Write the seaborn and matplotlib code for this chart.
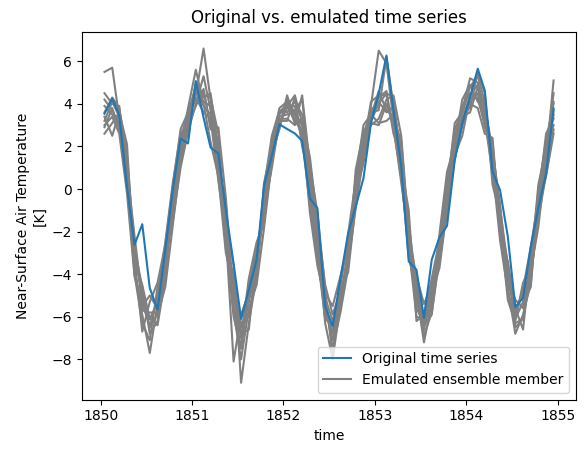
import pandas as pd
import seaborn as sns
import matplotlib
matplotlib.use("Agg")
import matplotlib.pyplot as plt
import matplotlib.dates as mdates

# monthly time axis, mid-month, 1850-1854
time = pd.date_range("1850-01-01", periods=60, freq="MS") + pd.Timedelta(days=15)

# original time series (blue)
original = [3.54, 4.25, 3.46, 0.1, -2.62, -1.65, -4.65, -5.66, -2.86, -0.05, 2.37, 2.14,
            5.07, 3.35, 1.95, 1.67, -0.98, -3.5, -6.1, -4.73, -3.32, 0.19, 1.56, 3.04,
            2.82, 2.61, 2.26, -0.44, -0.9, -5.51, -6.45, -4.2, -2.07, -0.83, 0.5, 3.08,
            4.48, 6.27, 3.7, 1.1, -3.4, -3.79, -6.05, -3.32, -2.26, -1.73, 1.36, 3.08,
            4.32, 5.65, 4.63, 0.81, -0.05, -2.23, -5.54, -5.12, -2.7, -0.9, 0.73, 3.78]

# emulated ensemble members (grey)
member_01 = [5.5, 5.7, 3.3, 0.8, -3.8, -5.9, -7.7, -5.4, -3.2, -0.6, 2.1, 3.4,
             4.4, 6.6, 4.2, 1.5, -2.4, -6.0, -7.4, -5.1, -3.0, -1.2, 1.2, 3.5,
             3.9, 4.4, 3.1, 0.4, -2.1, -5.8, -6.8, -5.2, -2.8, 0.1, 2.4, 3.7,
             4.1, 3.6, 3.9, 1.7, -2.6, -4.4, -6.4, -5.9, -2.9, -0.7, 2.6, 3.2,
             4.4, 4.9, 3.8, 1.9, -0.9, -3.6, -6.1, -5.3, -3.9, -1.4, 0.7, 2.8]
member_02 = [4.5, 4.0, 3.9, 0.5, -3.3, -6.7, -5.3, -4.4, -2.6, 0.1, 2.8, 3.6,
             4.8, 3.9, 3.5, 0.9, -1.3, -3.6, -9.1, -6.3, -4.1, 0.3, 2.0, 3.3,
             3.3, 3.0, 4.4, 1.1, -1.1, -4.7, -7.9, -4.4, -2.3, -0.6, 1.7, 3.9,
             6.5, 5.9, 3.2, 2.3, -2.2, -4.1, -5.4, -4.5, -3.1, 0.4, 1.8, 3.5,
             4.8, 5.3, 4.1, 0.9, -1.5, -4.6, -6.8, -5.9, -4.4, -0.7, 2.1, 4.1]
member_03 = [3.0, 3.4, 2.6, -0.2, -4.1, -5.4, -6.4, -5.9, -4.6, -1.7, 1.3, 3.0,
             3.9, 4.7, 2.8, 2.9, -0.4, -5.2, -6.0, -4.8, -2.6, -1.4, 1.9, 3.8,
             4.1, 3.6, 3.0, -1.1, -3.6, -5.2, -7.5, -5.8, -3.7, 0.9, 2.7, 3.0,
             3.3, 4.2, 4.4, 2.5, -2.0, -4.9, -7.2, -5.3, -2.7, -1.3, 2.4, 3.9,
             4.5, 4.2, 3.1, 1.2, -2.0, -3.4, -5.6, -6.6, -3.1, -0.3, 1.2, 3.5]
member_04 = [3.6, 4.3, 3.8, 1.6, -2.8, -4.6, -6.8, -6.2, -3.8, -0.9, 1.7, 3.2,
             4.9, 4.3, 4.5, 1.9, -1.8, -5.8, -8.0, -5.6, -4.5, -1.8, 1.3, 3.1,
             3.8, 3.9, 2.5, 0.7, -1.8, -5.1, -6.2, -5.0, -3.3, -0.4, 1.9, 3.2,
             4.0, 4.5, 4.3, 1.1, -1.0, -6.2, -5.9, -4.2, -2.4, -0.1, 3.1, 3.6,
             3.8, 5.5, 4.5, 0.2, -1.2, -4.2, -5.2, -5.6, -3.4, -1.1, 1.6, 4.5]
member_05 = [2.6, 3.1, 3.6, 1.0, -3.5, -4.5, -6.1, -6.4, -4.2, -0.4, 2.4, 3.5,
             4.2, 4.6, 3.0, 2.3, -2.8, -4.0, -6.8, -6.6, -2.9, -0.8, 1.5, 2.9,
             4.3, 3.5, 2.4, -0.8, -2.6, -5.9, -6.7, -4.6, -2.1, 0.4, 3.0, 3.5,
             3.1, 3.2, 3.5, 0.8, -3.2, -4.7, -6.6, -4.9, -3.7, -0.9, 1.4, 3.0,
             4.1, 4.5, 2.9, 2.2, -1.8, -3.9, -5.9, -4.7, -2.7, -0.5, 2.6, 3.3]
member_06 = [4.2, 3.7, 3.0, 0.3, -2.5, -5.5, -5.0, -5.6, -3.4, -1.2, 2.0, 3.8,
             5.6, 4.0, 2.2, 0.6, -3.0, -4.5, -6.5, -5.3, -3.6, 0.1, 2.5, 3.7,
             3.6, 4.1, 3.5, 0.2, -2.9, -4.9, -5.5, -4.1, -2.6, -0.2, 1.2, 3.3,
             4.3, 4.6, 2.6, 1.6, -1.6, -4.6, -6.0, -5.6, -2.1, 0.8, 2.1, 4.2,
             4.9, 4.1, 4.2, 1.0, -2.4, -4.8, -6.2, -4.4, -3.6, 0.2, 1.9, 3.0]
member_07 = [3.2, 4.1, 3.4, 0.6, -4.0, -6.3, -7.1, -4.6, -3.0, -1.5, 1.0, 2.7,
             4.0, 5.3, 3.7, 1.2, -0.7, -5.4, -7.5, -4.4, -3.4, -0.3, 2.2, 3.4,
             3.5, 3.7, 4.2, 0.9, -2.4, -6.3, -8.0, -5.4, -3.2, 0.6, 2.2, 3.4,
             4.6, 3.7, 3.4, 2.0, -2.9, -5.3, -6.3, -5.0, -3.4, -1.0, 1.6, 2.5,
             4.3, 4.3, 3.5, 1.5, -1.6, -5.2, -6.3, -6.1, -4.1, -1.3, 1.1, 3.7]
member_08 = [3.9, 3.5, 3.1, 1.3, -3.1, -4.9, -6.5, -5.1, -2.5, 0.3, 2.6, 3.1,
             4.6, 4.1, 3.9, 1.7, -1.6, -5.0, -6.3, -6.0, -3.9, -0.9, 1.7, 2.8,
             4.4, 3.2, 2.7, -0.4, -3.4, -5.5, -7.1, -5.6, -3.0, 0.2, 2.6, 3.6,
             3.7, 6.2, 3.9, 1.4, -3.0, -4.3, -6.9, -5.8, -3.3, -0.5, 2.0, 3.4,
             3.6, 4.8, 3.3, 0.7, -1.4, -3.5, -6.5, -6.1, -3.3, -0.9, 0.6, 2.6]
member_09 = [3.4, 2.5, 3.6, 2.1, -3.9, -5.7, -5.8, -5.8, -3.6, -0.6, 2.3, 3.3,
             4.3, 3.6, 3.3, 0.4, -2.1, -8.1, -5.9, -4.9, -3.2, -1.0, 1.0, 3.2,
             3.2, 4.3, 2.0, 0.5, -3.1, -6.1, -6.4, -5.3, -3.5, -0.9, 1.5, 3.1,
             3.0, 4.0, 3.0, 0.3, -2.3, -5.6, -6.3, -5.5, -2.6, 0.2, 2.8, 3.7,
             5.2, 5.0, 3.7, 1.7, -0.7, -4.4, -5.6, -5.0, -3.8, -1.8, 1.4, 5.1]
member_10 = [2.9, 3.8, 2.8, 0.9, -2.2, -5.2, -6.1, -5.3, -2.8, -1.0, 1.5, 2.9,
             5.0, 4.4, 4.3, 2.6, -2.3, -4.8, -7.0, -4.2, -2.5, -1.6, 2.4, 3.6,
             4.0, 3.1, 3.3, 1.5, -1.5, -4.5, -5.9, -4.8, -3.9, -0.7, 2.0, 4.1,
             4.4, 4.4, 2.8, 0.6, -2.7, -6.0, -6.1, -4.6, -2.9, -0.4, 1.5, 3.0,
             4.0, 3.8, 2.6, 2.4, -1.9, -3.8, -5.5, -5.4, -4.6, -0.1, 2.3, 4.0]

members = [member_01, member_02, member_03, member_04, member_05,
           member_06, member_07, member_08, member_09, member_10]

#long table for the ensemble
rows = []
for k, vals in enumerate(members):
    for t, v in zip(time, vals):
        rows.append({"time": t, "tas": v, "member": k})
df_ens = pd.DataFrame(rows)
df_orig = pd.DataFrame({"time": time, "tas": original})

fig, ax = plt.subplots(figsize=(5.86, 4.54), dpi=100)
fig.subplots_adjust(left=0.140, right=0.983, top=0.930, bottom=0.120)

sns.lineplot(data=df_ens, x="time", y="tas", units="member", estimator=None,
             color="grey", linewidth=1.5, ax=ax, zorder=2)
sns.lineplot(data=df_orig, x="time", y="tas", color="C0", linewidth=1.5, ax=ax, zorder=3)

ax.xaxis.set_major_locator(mdates.YearLocator())
ax.xaxis.set_major_formatter(mdates.DateFormatter("%Y"))

ax.set_title("Original vs. emulated time series")
ax.set_xlabel("time")
ax.set_ylabel("Near-Surface Air Temperature\n[K]")

h_orig = plt.Line2D([], [], color="C0", linewidth=1.5)
h_ens = plt.Line2D([], [], color="grey", linewidth=1.5)
ax.legend([h_orig, h_ens], ["Original time series", "Emulated ensemble member"], loc="lower right")

fig.savefig("out.png", dpi=100)
